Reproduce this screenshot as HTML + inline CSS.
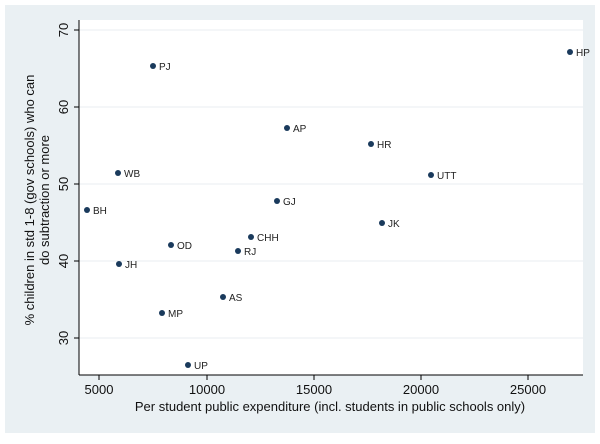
<!DOCTYPE html><html><head><style>body{margin:0;background:#fff}</style></head><body>
<svg width="600" height="439" xmlns="http://www.w3.org/2000/svg" font-family="Liberation Sans, sans-serif">
<rect x="5" y="5" width="590" height="428" fill="#eaf0f3"/>
<rect x="79" y="20" width="504" height="355" fill="#fff"/>
<g stroke="#e8eef1" stroke-width="1">
<line x1="79" x2="583" y1="30" y2="30"/><line x1="79" x2="583" y1="107" y2="107"/><line x1="79" x2="583" y1="184" y2="184"/><line x1="79" x2="583" y1="261" y2="261"/><line x1="79" x2="583" y1="338" y2="338"/>
</g>
<g stroke="#000" stroke-width="1">
<line x1="79" y1="20" x2="79" y2="375"/><line x1="79" y1="375" x2="583" y2="375"/>
<line x1="74" x2="79" y1="30" y2="30"/><line x1="74" x2="79" y1="107" y2="107"/><line x1="74" x2="79" y1="184" y2="184"/><line x1="74" x2="79" y1="261" y2="261"/><line x1="74" x2="79" y1="338" y2="338"/>
<line y1="375" y2="380" x1="99" x2="99"/><line y1="375" y2="380" x1="207" x2="207"/><line y1="375" y2="380" x1="314" x2="314"/><line y1="375" y2="380" x1="421" x2="421"/><line y1="375" y2="380" x1="528" x2="528"/>
</g>
<g font-size="13" fill="#111" text-anchor="middle">
<text x="99" y="394">5000</text><text x="207" y="394">10000</text><text x="314" y="394">15000</text><text x="421" y="394">20000</text><text x="528" y="394">25000</text>
<text x="68" y="30" transform="rotate(-90 68 30)">70</text>
<text x="68" y="107" transform="rotate(-90 68 107)">60</text>
<text x="68" y="184" transform="rotate(-90 68 184)">50</text>
<text x="68" y="261" transform="rotate(-90 68 261)">40</text>
<text x="68" y="338" transform="rotate(-90 68 338)">30</text>
<text x="330" y="411">Per student public expenditure (incl. students in public schools only)</text>
<g transform="translate(34,200) rotate(-90)"><text x="0" y="0">% children in std 1-8 (gov schools) who can</text><text x="0" y="15">do subtraction or more</text></g>
</g>
<g fill="#1a3a5c" font-size="10">
<circle cx="570" cy="52" r="3"/><text x="576" y="56" fill="#222">HP</text>
<circle cx="153" cy="66" r="3"/><text x="159" y="70" fill="#222">PJ</text>
<circle cx="287" cy="128" r="3"/><text x="293" y="132" fill="#222">AP</text>
<circle cx="371" cy="144" r="3"/><text x="377" y="148" fill="#222">HR</text>
<circle cx="118" cy="173" r="3"/><text x="124" y="177" fill="#222">WB</text>
<circle cx="431" cy="175" r="3"/><text x="437" y="179" fill="#222">UTT</text>
<circle cx="87" cy="210" r="3"/><text x="93" y="214" fill="#222">BH</text>
<circle cx="277" cy="201" r="3"/><text x="283" y="205" fill="#222">GJ</text>
<circle cx="382" cy="223" r="3"/><text x="388" y="227" fill="#222">JK</text>
<circle cx="251" cy="237" r="3"/><text x="257" y="241" fill="#222">CHH</text>
<circle cx="171" cy="245" r="3"/><text x="177" y="249" fill="#222">OD</text>
<circle cx="238" cy="251" r="3"/><text x="244" y="255" fill="#222">RJ</text>
<circle cx="119" cy="264" r="3"/><text x="125" y="268" fill="#222">JH</text>
<circle cx="223" cy="297" r="3"/><text x="229" y="301" fill="#222">AS</text>
<circle cx="162" cy="313" r="3"/><text x="168" y="317" fill="#222">MP</text>
<circle cx="188" cy="365" r="3"/><text x="194" y="369" fill="#222">UP</text>
</g>
</svg></body></html>
